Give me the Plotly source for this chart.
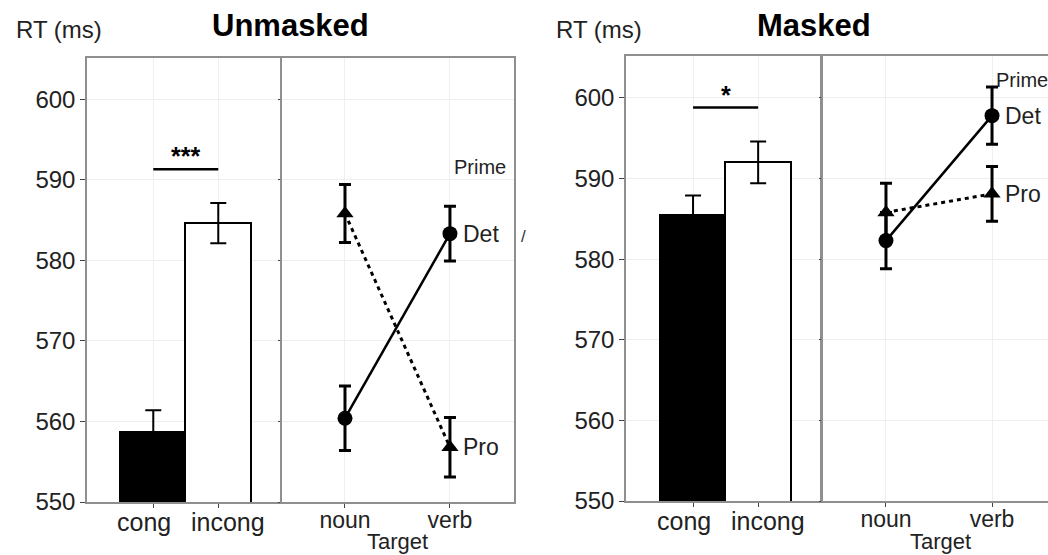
import plotly.graph_objects as go

# Reaction times (ms) by prime-target congruency
bar_conditions = ["cong", "incong"]
unmasked_bar_rt = [558.7, 584.6]
unmasked_bar_se = [2.7, 2.5]
masked_bar_rt = [585.5, 592.0]
masked_bar_se = [2.4, 2.6]

# Reaction times (ms) by target type and prime type
targets = ["noun", "verb"]
unmasked_det = [560.4, 583.3]
unmasked_det_se = [4.0, 3.4]
unmasked_pro = [585.8, 556.8]
unmasked_pro_se = [3.6, 3.7]
masked_det = [582.3, 597.8]
masked_det_se = [3.5, 3.55]
masked_pro = [585.8, 588.1]
masked_pro_se = [3.6, 3.4]

# Significance markers: (bracket height, label)
unmasked_sig = (591.3, "***")
masked_sig = (598.8, "*")

y_ticks = [550, 560, 570, 580, 590, 600]

FONT = "Liberation Sans, Arial, sans-serif"
BORDER = "#8f8f8f"
GRID = "#efefef"
TEXT = "#222222"
W, H = 1048, 555


def px_x(p):
    return p / W


def px_y(p):
    return (H - p) / H


fig = go.Figure()


def add_bars(xa, ya, values, errors):
    fig.add_trace(go.Bar(
        x=bar_conditions, y=values, width=1.02,
        marker=dict(color=["black", "white"], line=dict(color="black", width=2)),
        error_y=dict(type="data", array=errors, color="black", thickness=2, width=8),
        xaxis=xa, yaxis=ya, showlegend=False,
    ))


def add_lines(xa, ya, det, det_se, pro, pro_se):
    fig.add_trace(go.Scatter(
        x=targets, y=pro, mode="lines+markers",
        line=dict(color="black", width=3, dash="4px,4px"),
        marker=dict(symbol="triangle-up", size=15, color="black"),
        error_y=dict(type="data", array=pro_se, color="black", thickness=3, width=6),
        xaxis=xa, yaxis=ya, showlegend=False,
    ))
    fig.add_trace(go.Scatter(
        x=targets, y=det, mode="lines+markers",
        line=dict(color="black", width=2.5),
        marker=dict(symbol="circle", size=15, color="black"),
        error_y=dict(type="data", array=det_se, color="black", thickness=3, width=6),
        xaxis=xa, yaxis=ya, showlegend=False,
    ))


add_bars("x", "y", unmasked_bar_rt, unmasked_bar_se)
add_lines("x2", "y2", unmasked_det, unmasked_det_se, unmasked_pro, unmasked_pro_se)
add_bars("x3", "y3", masked_bar_rt, masked_bar_se)
add_lines("x4", "y4", masked_det, masked_det_se, masked_pro, masked_pro_se)

tick_font = dict(family=FONT, size=24, color=TEXT)
cat_font = dict(family=FONT, size=23, color=TEXT)

yd_unmasked = [px_y(502), px_y(58)]
yd_masked = [px_y(501), px_y(56)]
y_range_unmasked = [550, 605.1]
y_range_masked = [550, 605.2]

common_x = dict(type="category", showline=True, linecolor=BORDER, linewidth=1.5,
                ticks="outside", ticklen=4, tickcolor="#444444", tickfont=cat_font,
                ticklabelstandoff=-7, automargin=False,
                showgrid=True, gridcolor=GRID, zeroline=False, fixedrange=True)
common_y = dict(showline=True, linecolor=BORDER, linewidth=1.5, tickvals=y_ticks,
                automargin=False,
                showgrid=True, gridcolor=GRID, zeroline=False, fixedrange=True)

fig.update_layout(
    width=W, height=H,
    margin=dict(l=0, r=0, t=0, b=0, pad=0),
    paper_bgcolor="white", plot_bgcolor="white",
    bargap=0,
    font=dict(family=FONT, color=TEXT),
    xaxis=dict(common_x, domain=[px_x(87), px_x(280)], range=[-1.02, 1.95],
               mirror=True, showticklabels=False, anchor="y"),
    yaxis=dict(common_y, domain=yd_unmasked, range=y_range_unmasked, mirror=True,
               ticks="outside", ticklen=5, tickcolor="#444444", tickfont=tick_font,
               anchor="x"),
    xaxis2=dict(common_x, domain=[px_x(282), px_x(514)], range=[-0.6, 1.61],
                mirror=True, anchor="y2"),
    yaxis2=dict(common_y, domain=yd_unmasked, range=y_range_unmasked, mirror=True,
                ticks="outside", ticklen=2, tickcolor="#444444",
                showticklabels=False, anchor="x2"),
    xaxis3=dict(common_x, domain=[px_x(626), px_x(820)], range=[-1.03, 1.95],
                mirror=True, showticklabels=False, anchor="y3"),
    yaxis3=dict(common_y, domain=yd_masked, range=y_range_masked, mirror=True,
                ticks="outside", ticklen=5, tickcolor="#444444", tickfont=tick_font,
                anchor="x3"),
    xaxis4=dict(common_x, domain=[px_x(823), 1.0], range=[-0.594, 1.528],
                mirror=True, anchor="y4"),
    yaxis4=dict(common_y, domain=yd_masked, range=y_range_masked, mirror=False,
                ticks="outside", ticklen=2, tickcolor="#444444",
                showticklabels=False, anchor="x4"),
)

# Condition labels under the bar panels, spread slightly wider than the ticks
for xa, bottom in (("x", yd_unmasked[0]), ("x3", yd_masked[0])):
    for i, (name, shift) in enumerate(zip(bar_conditions, (-9, 10))):
        fig.add_annotation(xref=xa, yref="paper", x=i, y=bottom, text=name,
                           showarrow=False, xanchor="center", yanchor="top",
                           xshift=shift, yshift=-4,
                           font=dict(family=FONT, size=25, color=TEXT))

# Significance brackets
for xa, ya, (level, stars) in (("x", "y", unmasked_sig), ("x3", "y3", masked_sig)):
    fig.add_shape(type="line", xref=xa, yref=ya, x0=0, x1=1, y0=level, y1=level,
                  line=dict(color="black", width=2.5))
    fig.add_annotation(xref=xa, yref=ya, x=0.5, y=level, text=f"<b>{stars}</b>",
                       showarrow=False, yanchor="bottom", yshift=-3,
                       font=dict(family=FONT, size=25, color="black"))

# Prime labels next to the verb points
for xa, ya, det, pro, prime_y in (("x2", "y2", unmasked_det, unmasked_pro, 591.6),
                                  ("x4", "y4", masked_det, masked_pro, 602.2)):
    fig.add_annotation(xref=xa, yref=ya, x=1, y=det[1], text="Det", showarrow=False,
                       xanchor="left", xshift=11, font=dict(family=FONT, size=23, color=TEXT))
    fig.add_annotation(xref=xa, yref=ya, x=1, y=pro[1], text="Pro", showarrow=False,
                       xanchor="left", xshift=11, font=dict(family=FONT, size=23, color=TEXT))
    fig.add_annotation(xref=xa, yref=ya, x=1, y=prime_y, text="Prime", showarrow=False,
                       xanchor="left", xshift=2, font=dict(family=FONT, size=20, color=TEXT))

# Axis and panel titles
for cx in (397, 940):
    fig.add_annotation(xref="paper", yref="paper", x=px_x(cx), y=0,
                       text="Target", showarrow=False, xanchor="center", yanchor="bottom",
                       yshift=-1, font=dict(family=FONT, size=22, color=TEXT))

for lx in (14, 554):
    fig.add_annotation(xref="paper", yref="paper", x=px_x(lx), y=px_y(29),
                       text="RT (ms)", showarrow=False, xanchor="left", yanchor="middle",
                       font=dict(family=FONT, size=24, color=TEXT))

for cx, title in ((290, "Unmasked"), (814, "Masked")):
    fig.add_annotation(xref="paper", yref="paper", x=px_x(cx), y=px_y(26),
                       text=f"<b>{title}</b>", showarrow=False, xanchor="center",
                       yanchor="middle", font=dict(family=FONT, size=31, color="black"))

fig.add_annotation(xref="paper", yref="paper", x=px_x(523), y=px_y(237), text="/",
                   showarrow=False, font=dict(family=FONT, size=17, color="#333333"))

fig.write_html("out.html")
